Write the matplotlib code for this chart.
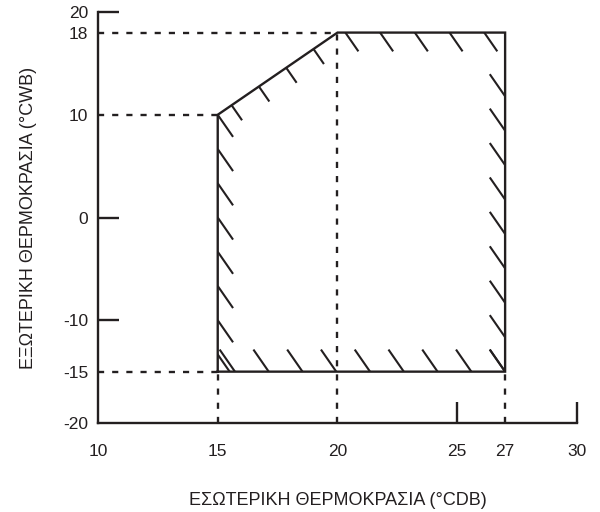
import numpy as np
import matplotlib
matplotlib.use("Agg")
import matplotlib.pyplot as plt
from matplotlib.patches import Polygon

plt.rcParams['font.family'] = ['Liberation Sans', 'DejaVu Sans']

# operating range: indoor dry bulb (x) vs outdoor wet bulb (y)
range_x = [15, 15, 20, 27, 27]
range_y = [-15, 10, 18, 18, -15]

# tick values (major ones get a tick mark, minor ones only a label)
x_major = [25, 30]
x_minor = [10, 15, 20, 27]
y_major = [20, 0, -10]
y_minor = [18, 10, -15, -20]

xlabel = "ΕΣΩΤΕΡΙΚΗ ΘΕΡΜΟΚΡΑΣΙΑ (°CDB)"
ylabel = "ΕΞΩΤΕΡΙΚΗ ΘΕΡΜΟΚΡΑΣΙΑ (°CWB)"

ink = '#231f20'
lw = 1.7
dash = (0, (2.6, 3.4))
fs_tick = 12.5
fs_label = 13


def hatch(ax, i0, i1, ts, scale=1.0, at_end=False, clip=None):
    # short "\" marks along the edge from vertex i0 to vertex i1
    p0 = np.array([range_x[i0], range_y[i0]], dtype=float)
    p1 = np.array([range_x[i1], range_y[i1]], dtype=float)
    v = np.array([0.64, -2.15]) * scale
    for t in ts:
        p = p0 + t * (p1 - p0)
        a, b = (p - v, p) if at_end else (p, p + v)
        ln, = ax.plot([a[0], b[0]], [a[1], b[1]], color=ink, lw=1.5,
                      solid_capstyle='butt')
        if clip is not None:
            ln.set_clip_path(clip)


fig = plt.figure(figsize=(6, 5.12), dpi=100)
ax = fig.add_axes([0.1633, 0.1738, 0.7983, 0.8027])
ax.set_xlim(10, 30)
ax.set_ylim(-20, 20)

for s in ['top', 'right']:
    ax.spines[s].set_visible(False)
for s in ['left', 'bottom']:
    ax.spines[s].set_linewidth(lw)
    ax.spines[s].set_color(ink)

## guide lines from the corners of the range
for i in [0, 1, 2]:
    ax.plot([10, range_x[i]], [range_y[i], range_y[i]], color=ink, lw=lw,
            linestyle=dash)
for i in [0, 2, 4]:
    ax.plot([range_x[i], range_x[i]], [-20, range_y[i]], color=ink, lw=lw,
            linestyle=dash)

## range outline
ax.plot(range_x + range_x[:1], range_y + range_y[:1], color=ink, lw=lw,
        solid_joinstyle='miter')
poly = Polygon(np.column_stack([range_x, range_y]), closed=True,
               facecolor='none', edgecolor='none', transform=ax.transData)
ax.add_patch(poly)

## hatching inside the outline
hatch(ax, 1, 0, [k * 0.1333 for k in range(8)], clip=poly)
hatch(ax, 1, 2, [0.116 + 0.228 * k for k in range(4)], scale=0.68, clip=poly)
hatch(ax, 2, 3, [(0.33 + 1.45 * k) / 7 for k in range(5)], scale=0.85, clip=poly)
hatch(ax, 4, 3, [k * 3.35 / 33 for k in range(9)], at_end=True, clip=poly)
hatch(ax, 4, 0, [k * 1.41 / 12 for k in range(9)], at_end=True, clip=poly)

## ticks
ax.set_xticks(x_major)
ax.set_xticks(x_minor, minor=True)
ax.set_xticklabels([str(v) for v in x_major])
ax.set_xticklabels([str(v) for v in x_minor], minor=True)
ax.set_yticks(y_major)
ax.set_yticks(y_minor, minor=True)
ax.set_yticklabels([str(v) for v in y_major])
ax.set_yticklabels([str(v) for v in y_minor], minor=True)

ax.tick_params(axis='both', which='major', direction='in', length=15,
               width=lw, color=ink, labelsize=fs_tick, labelcolor=ink)
ax.tick_params(axis='both', which='minor', length=0, labelsize=fs_tick,
               labelcolor=ink)
ax.tick_params(axis='x', which='both', pad=15)
ax.tick_params(axis='y', which='both', pad=7)

ax.set_xlabel(xlabel, fontsize=fs_label, color=ink, labelpad=24)
ax.set_ylabel(ylabel, fontsize=fs_label, color=ink, labelpad=19)

fig.savefig("out.png", dpi=100)
